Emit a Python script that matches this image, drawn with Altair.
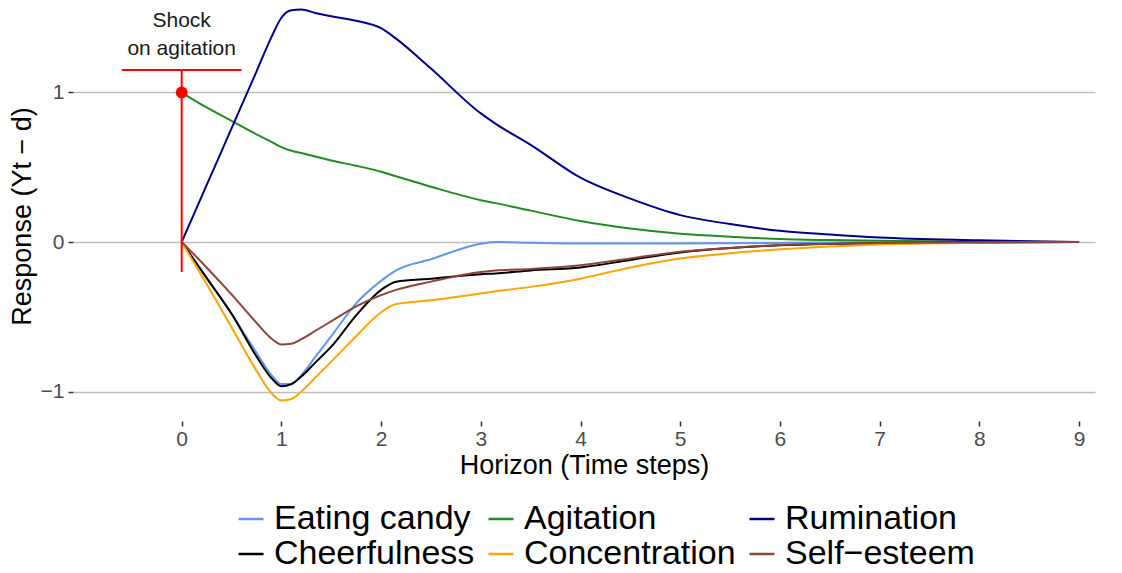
import altair as alt
import pandas as pd

horizon = [0, 0.25, 0.5, 0.75, 0.9, 1.0, 1.1, 1.2, 1.35, 1.5, 1.75, 2.0, 2.15, 2.5,
           3.0, 3.15, 3.5, 4.0, 4.5, 5.0, 5.5, 6.0, 6.5, 7.0, 8.0, 9.0]

eating_candy = [0, -0.24, -0.48, -0.74, -0.89, -0.95, -0.95, -0.89, -0.76, -0.63, -0.41, -0.26,
                -0.19, -0.115, -0.012, 0.0, -0.005, -0.01, -0.01, -0.01, -0.008, -0.006, -0.004,
                -0.003, -0.001, 0]
agitation = [1.0, 0.90, 0.81, 0.72, 0.67, 0.635, 0.61, 0.595, 0.57, 0.545, 0.51, 0.47, 0.44,
             0.37, 0.28, 0.26, 0.21, 0.14, 0.09, 0.055, 0.035, 0.02, 0.013, 0.008, 0.003, 0]
rumination = [0, 0.38, 0.76, 1.14, 1.37, 1.50, 1.55, 1.555, 1.53, 1.51, 1.48, 1.43, 1.36, 1.16,
              0.86, 0.79, 0.65, 0.43, 0.29, 0.18, 0.12, 0.075, 0.05, 0.03, 0.012, 0]
cheerfulness = [0, -0.24, -0.48, -0.765, -0.91, -0.965, -0.95, -0.90, -0.80, -0.70, -0.49, -0.32,
                -0.265, -0.245, -0.215, -0.21, -0.19, -0.17, -0.12, -0.07, -0.04, -0.022, -0.013,
                -0.008, -0.003, 0]
concentration = [0, -0.28, -0.57, -0.86, -1.01, -1.06, -1.05, -1.0, -0.90, -0.80, -0.63, -0.47,
                 -0.415, -0.39, -0.345, -0.33, -0.30, -0.245, -0.17, -0.11, -0.075, -0.049, -0.03,
                 -0.016, -0.005, 0]
self_esteem = [0, -0.17, -0.35, -0.54, -0.645, -0.685, -0.68, -0.65, -0.59, -0.53, -0.43, -0.355,
               -0.32, -0.265, -0.20, -0.19, -0.18, -0.155, -0.11, -0.065, -0.04, -0.02, -0.012,
               -0.007, -0.003, 0]

series_names = ["Eating candy", "Agitation", "Rumination", "Cheerfulness", "Concentration",
                "Self\u2212esteem"]
series_values = [eating_candy, agitation, rumination, cheerfulness, concentration, self_esteem]
series_colors = ["#6495ED", "#228B22", "#00008B", "#000000", "#FFA500", "#8B4539"]

# shock annotation
shock_x = [0]
shock_y = [1]
shock_bar_low = -0.2
shock_bar_high = 1.15
shock_bar_half = 0.6
shock_text = ["Shock", "on agitation"]
shock_text_y = [1.478, 1.29]

rows = []
for name, vals in zip(series_names, series_values):
    for h, v in zip(horizon, vals):
        rows.append({"horizon": h, "response": v, "variable": name})
df = pd.DataFrame(rows)

FONT = "Liberation Sans"
xscale = alt.Scale(domain=[-1.09, 9.16], nice=False, zero=False)
yscale = alt.Scale(domain=[-1.197, 1.545], nice=False, zero=False)

x_enc = alt.X("horizon:Q", scale=xscale, axis=alt.Axis(
    values=list(range(10)), format="d", title="Horizon (Time steps)", grid=False, domain=False,
    tickColor="#333333", tickSize=5, tickWidth=1.5, labelColor="#4D4D4D", labelFontSize=21,
    labelFont=FONT, titleFont=FONT, titleFontSize=27, titleColor="black",
    titleFontWeight="normal", labelPadding=2, titlePadding=3))
y_enc = alt.Y("response:Q", scale=yscale, axis=alt.Axis(
    values=[-1, 0, 1], format="d", title="Response (Yt \u2212 d)", grid=True, gridColor="#BEBEBE",
    gridWidth=1.5, domain=False, tickColor="#333333", tickSize=5, tickWidth=1.5,
    labelColor="#4D4D4D", labelFontSize=21, labelFont=FONT, titleFont=FONT, titleFontSize=27,
    titleColor="black", titleFontWeight="normal", labelPadding=4, titlePadding=4))

lines = alt.Chart(df).mark_line(strokeWidth=2, interpolate="monotone").encode(
    x=x_enc,
    y=y_enc,
    color=alt.Color("variable:N", scale=alt.Scale(domain=series_names, range=series_colors),
                    sort=series_names,
                    legend=alt.Legend(orient="none", legendX=161, legendY=491, columns=3,
                                      direction="horizontal", symbolType="stroke",
                                      symbolSize=625, symbolStrokeWidth=2.5, labelFontSize=34,
                                      labelFont=FONT, labelColor="black", title=None,
                                      rowPadding=1, columnPadding=8, labelOffset=6, padding=0,
                                      labelLimit=500)),
    order=alt.Order("horizon:Q"),
)

shock_df = pd.DataFrame({"x": shock_x, "y": shock_y, "lo": [shock_bar_low], "hi": [shock_bar_high],
                         "xl": [shock_x[0] - shock_bar_half], "xr": [shock_x[0] + shock_bar_half]})

vrule = alt.Chart(shock_df).mark_rule(color="red", strokeWidth=2).encode(
    x=alt.X("x:Q", scale=xscale), y=alt.Y("lo:Q", scale=yscale), y2="hi:Q")
hrule = alt.Chart(shock_df).mark_rule(color="red", strokeWidth=2).encode(
    x=alt.X("xl:Q", scale=xscale), x2="xr:Q", y=alt.Y("hi:Q", scale=yscale))
point = alt.Chart(shock_df).mark_point(filled=True, color="red", size=140, opacity=1).encode(
    x=alt.X("x:Q", scale=xscale), y=alt.Y("y:Q", scale=yscale))

text_df = pd.DataFrame({"x": [shock_x[0]] * 2, "y": shock_text_y, "label": shock_text})
text = alt.Chart(text_df).mark_text(font=FONT, fontSize=21, color="#1A1A1A", align="center",
                                    baseline="middle").encode(
    x=alt.X("x:Q", scale=xscale), y=alt.Y("y:Q", scale=yscale), text="label:N")

chart = alt.layer(lines, vrule, hrule, point, text).properties(
    width=1022, height=410,
    autosize=alt.AutoSizeParams(type="none"),
    padding={"left": 65, "top": 3, "right": 15, "bottom": 150},
).configure(background="white").configure_view(stroke=None)

chart.save("out.html", embed_options={"renderer": "svg", "actions": False})
